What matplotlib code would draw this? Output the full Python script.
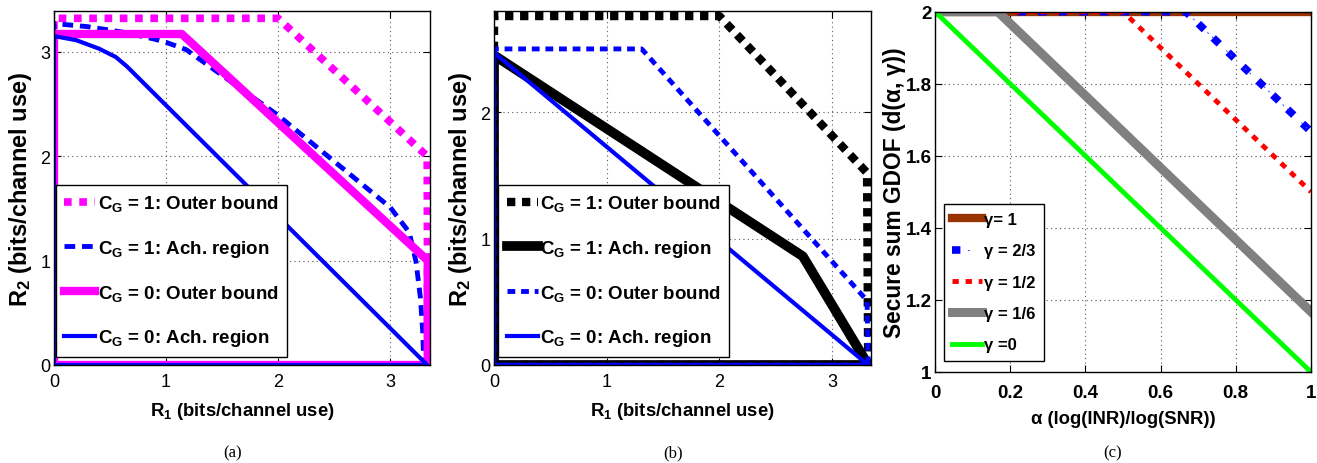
import matplotlib
matplotlib.use('Agg')
import matplotlib.pyplot as plt
from matplotlib.legend_handler import HandlerTuple

FONT = 'Liberation Sans'
plt.rcParams['font.family'] = [FONT, 'DejaVu Sans']
plt.rcParams['mathtext.fontset'] = 'custom'
plt.rcParams['mathtext.rm'] = FONT
plt.rcParams['mathtext.bf'] = FONT + ':bold'
plt.rcParams['mathtext.default'] = 'regular'

# ---------------- data: panel (a) ----------------
a_cg1_outer_r1 = [0, 0, 2.0, 3.33, 3.335, 0]
a_cg1_outer_r2 = [0, 3.32, 3.32, 2.0, 0, 0]
a_cg1_ach_r1 = [0, 0, 0.3, 0.6, 0.9, 1.0, 1.18, 2.0, 3.0, 3.17, 3.23, 3.27, 3.29, 3.30, 0]
a_cg1_ach_r2 = [0, 3.27, 3.24, 3.19, 3.12, 3.09, 3.02, 2.39, 1.51, 1.27, 0.99, 0.64, 0.32, 0, 0]
a_cg0_outer_r1 = [0, 0, 1.14, 3.335, 3.335, 0]
a_cg0_outer_r2 = [0, 3.17, 3.17, 1.0, 0, 0]
a_cg0_ach_r1 = [0, 0, 0.2, 0.4, 0.55, 0.65, 3.33, 0]
a_cg0_ach_r2 = [0, 3.15, 3.11, 3.03, 2.95, 2.86, 0, 0]

# ---------------- data: panel (b) ----------------
b_cg1_outer_r1 = [0, 0, 2.0, 3.31, 3.32, 0]
b_cg1_outer_r2 = [0, 2.76, 2.76, 1.52, 0, 0]
b_cg1_ach_r1 = [0, 0, 2.74, 3.32, 0]
b_cg1_ach_r2 = [0, 2.45, 0.86, 0, 0]
b_cg0_outer_r1 = [0, 0, 1.31, 3.31, 3.32, 0]
b_cg0_outer_r2 = [0, 2.50, 2.50, 0.51, 0, 0]
b_cg0_ach_r1 = [0, 0, 3.32, 0]
b_cg0_ach_r2 = [0, 2.47, 0, 0]

ab_labels = ['C$_G$ = 1: Outer bound', 'C$_G$ = 1: Ach. region',
             'C$_G$ = 0: Outer bound', 'C$_G$ = 0: Ach. region']

# ---------------- data: panel (c) ----------------
c_alpha_g1 = [0, 1]
c_d_g1 = [2, 2]
c_alpha_g23 = [0, 0.667, 1]
c_d_g23 = [2, 2, 1.667]
c_alpha_g12 = [0, 0.5, 1]
c_d_g12 = [2, 2, 1.5]
c_alpha_g16 = [0, 0.167, 1]
c_d_g16 = [2, 2, 1.167]
c_alpha_g0 = [0, 1]
c_d_g0 = [2, 1]
c_labels = ['\u03b3= 1', '\u03b3 = 2/3', '\u03b3 = 1/2', '\u03b3 = 1/6', '\u03b3 =0']

ab_xticks = [0, 1, 2, 3]
a_yticks = [0, 1, 2, 3]
b_yticks = [0, 1, 2]
c_xticks = [0, 0.2, 0.4, 0.6, 0.8, 1]
c_xticklabels = ['0', '0.2', '0.4', '0.6', '0.8', '1']
c_yticks = [1, 1.2, 1.4, 1.6, 1.8, 2]
c_yticklabels = ['1', '1.2', '1.4', '1.6', '1.8', '2']

LEG_SIZE = 13.5
W, H = 1317, 464
fig = plt.figure(figsize=(W / 100, H / 100), dpi=100)


def style(ax, bold=False, xpad=6, ypad=2.5, size=13):
    ax.tick_params(direction='in', top=True, right=True, length=5, width=0.8,
                   labelsize=size, colors='black')
    ax.tick_params(axis='x', pad=xpad)
    ax.tick_params(axis='y', pad=ypad)
    if bold:
        for t in ax.get_xticklabels() + ax.get_yticklabels():
            t.set_fontweight('bold')
    ax.grid(True, linestyle=(0, (1, 3)), color='0.35', linewidth=0.8)
    ax.set_axisbelow(True)
    for s in ax.spines.values():
        s.set_linewidth(1.0)
        s.set_zorder(10)


def legend_ab(ax, handles, x0):
    leg = ax.legend(handles, ab_labels, loc='lower left', bbox_to_anchor=(x0, 0.023),
                    borderaxespad=0,
                    prop={'weight': 'bold', 'size': LEG_SIZE},
                    handlelength=31 / (LEG_SIZE * 1.389), handletextpad=0.12,
                    labelspacing=1.3, borderpad=0.45,
                    fancybox=False, framealpha=1, edgecolor='black')
    leg.get_frame().set_linewidth(1.0)
    leg.set_zorder(20)


def xlabel(ax, text, ycoord):
    ax.set_xlabel(text, fontsize=13.3, fontweight='bold', va='center')
    ax.xaxis.set_label_coords(0.5, ycoord)


# ---------------- panel (a) ----------------
axA = fig.add_axes([54 / W, 1 - 366 / H, 376 / W, 354 / H])
h1, = axA.plot(a_cg1_outer_r1, a_cg1_outer_r2, color='#ff00ff', lw=5.5,
               linestyle=(0, (1, 1)), dash_capstyle='butt')
h2, = axA.plot(a_cg1_ach_r1, a_cg1_ach_r2, color='#0000ff', lw=3.5,
               linestyle=(0, (2.2, 1.4)), dash_capstyle='butt')
h3, = axA.plot(a_cg0_outer_r1, a_cg0_outer_r2, color='#ff00ff', lw=6)
h4, = axA.plot(a_cg0_ach_r1, a_cg0_ach_r2, color='#0000ff', lw=3)
axA.set_xlim(0, 3.355)
axA.set_ylim(0, 3.39)
axA.set_xticks(ab_xticks)
axA.set_yticks(a_yticks)
style(axA)
xlabel(axA, 'R$_1$ (bits/channel use)', (366 - 412) / 354)
axA.set_ylabel('R$_2$ (bits/channel use)', fontsize=17, fontweight='bold', va='center')
axA.yaxis.set_label_coords((21 - 54) / 376, 0.5)
legend_ab(axA, [h1, h2, h3, h4], 0.005)

# ---------------- panel (b) ----------------
axB = fig.add_axes([494 / W, 1 - 366 / H, 377 / W, 354 / H])
g1, = axB.plot(b_cg1_outer_r1, b_cg1_outer_r2, color='black', lw=6,
               linestyle=(0, (1, 0.8)), dash_capstyle='butt')
g2, = axB.plot(b_cg1_ach_r1, b_cg1_ach_r2, color='black', lw=7)
g3, = axB.plot(b_cg0_outer_r1, b_cg0_outer_r2, color='#0000ff', lw=3.5,
               linestyle=(0, (1.6, 1.2)), dash_capstyle='butt')
g4, = axB.plot(b_cg0_ach_r1, b_cg0_ach_r2, color='#0000ff', lw=3)
axB.set_xlim(0, 3.345)
axB.set_ylim(0, 2.8)
axB.set_xticks(ab_xticks)
axB.set_yticks(b_yticks)
style(axB)
xlabel(axB, 'R$_1$ (bits/channel use)', (366 - 412) / 354)
axB.set_ylabel('R$_2$ (bits/channel use)', fontsize=17, fontweight='bold', va='center')
axB.yaxis.set_label_coords((461 - 494) / 377, 0.5)
legend_ab(axB, [g1, g2, g3, g4], 0.011)

# ---------------- panel (c) ----------------
axC = fig.add_axes([935 / W, 1 - 373 / H, 376 / W, 360.3 / H])
k1, = axC.plot(c_alpha_g1, c_d_g1, color='#993300', lw=6)
k2, = axC.plot(c_alpha_g23, c_d_g23, color='#0000ff', lw=5.5,
               linestyle=(0, (1.1, 1.6)), dash_capstyle='butt')
k2b, = axC.plot(c_alpha_g23, c_d_g23, color='#3344ff', lw=0.7,
                linestyle=(6.1, (2, 4.5, 2, 18.3)))
k3, = axC.plot(c_alpha_g12, c_d_g12, color='#ff0000', lw=3.5,
               linestyle=(0, (1.3, 1.4)), dash_capstyle='butt')
k4, = axC.plot(c_alpha_g16, c_d_g16, color='#808080', lw=6.5)
k5, = axC.plot(c_alpha_g0, c_d_g0, color='#00ff00', lw=3.5)
axC.set_xlim(0, 1)
axC.set_ylim(1, 2)
axC.set_xticks(c_xticks)
axC.set_xticklabels(c_xticklabels)
axC.set_yticks(c_yticks)
axC.set_yticklabels(c_yticklabels)
style(axC, bold=True, xpad=9, ypad=2.5, size=13.5)
xlabel(axC, '\u03b1 (log(INR)/log(SNR))', (373 - 419) / 360)
axC.set_ylabel('Secure sum GDOF (d(\u03b1, \u03b3))', fontsize=16.4, fontweight='bold', va='center')
axC.yaxis.set_label_coords((894 - 935) / 376, 0.5)
legC = axC.legend([k1, (k2, k2b), k3, k4, k5], c_labels, loc='lower left',
                  bbox_to_anchor=(0.024, 0.031), borderaxespad=0,
                  prop={'weight': 'bold', 'size': 12},
                  handler_map={tuple: HandlerTuple(ndivide=None, pad=0)},
                  handlelength=30 / (12 * 1.389), handletextpad=0.1, labelspacing=0.98,
                  borderpad=0.5, fancybox=False, framealpha=1, edgecolor='black')
legC.get_frame().set_linewidth(1.0)
legC.set_zorder(20)

# ---------------- captions ----------------
for xc, cap in zip([233, 673, 1113], ['(a)', '(b)', '(c)']):
    fig.text(xc / W, 1 - 453 / H, cap, ha='center', va='center',
             family=['Liberation Serif', 'DejaVu Serif'], fontsize=12)

fig.savefig('out.png', dpi=100)
